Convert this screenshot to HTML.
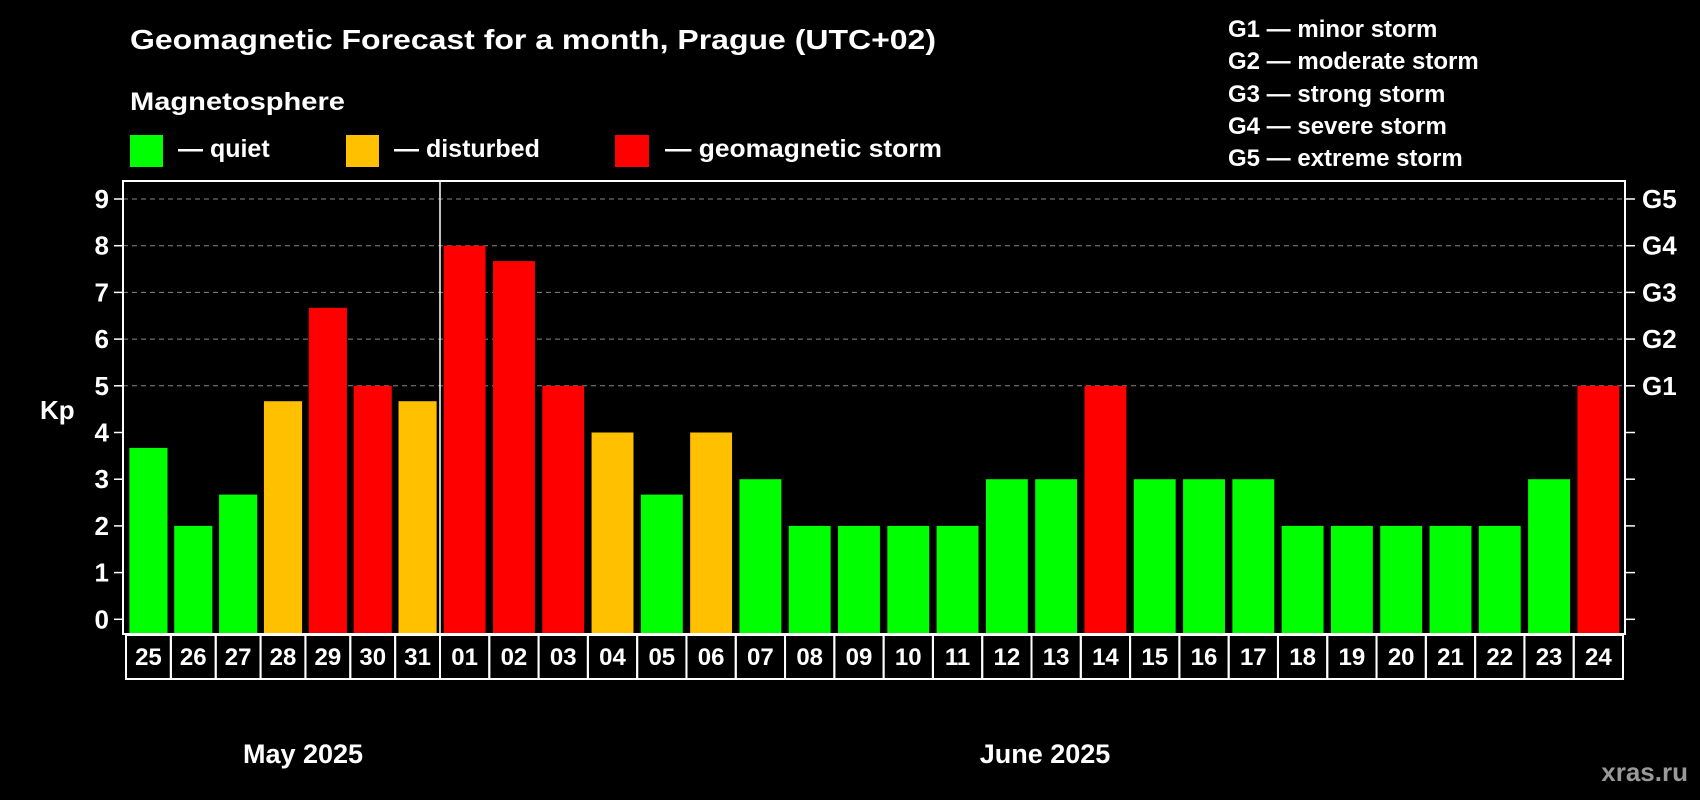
<!DOCTYPE html>
<html><head><meta charset="utf-8"><style>
html,body{margin:0;padding:0;background:#000;}
svg{display:block;font-family:"Liberation Sans",Arial,sans-serif;font-weight:bold;}
</style></head><body>
<svg id="chart" width="1700" height="800" viewBox="0 0 1700 800" xmlns="http://www.w3.org/2000/svg">
<rect width="1700" height="800" fill="#000"/>
<text x="130" y="49" font-size="28" fill="#fff" textLength="806" lengthAdjust="spacingAndGlyphs">Geomagnetic Forecast for a month, Prague (UTC+02)</text>
<text x="130" y="110" font-size="25" fill="#fff" textLength="215" lengthAdjust="spacingAndGlyphs">Magnetosphere</text>
<g>
<rect x="130" y="135" width="33" height="32" fill="#00ff00"/>
<text x="178" y="157" font-size="25" fill="#fff">— quiet</text></g>
<g>
<rect x="346" y="135" width="33" height="32" fill="#ffc000"/>
<text x="394" y="157" font-size="25" fill="#fff">— disturbed</text></g>
<g>
<rect x="615" y="135" width="34" height="32" fill="#ff0000"/>
<text x="665" y="157" font-size="25" fill="#fff" textLength="277" lengthAdjust="spacingAndGlyphs">— geomagnetic storm</text></g>
<g font-size="24" fill="#fff">
<text x="1228" y="37">G1 — minor storm</text>
<text x="1228" y="69">G2 — moderate storm</text>
<text x="1228" y="102">G3 — strong storm</text>
<text x="1228" y="134">G4 — severe storm</text>
<text x="1228" y="166">G5 — extreme storm</text>
</g>
<text x="40" y="419" font-size="26" fill="#fff">Kp</text>
<g id="grid"></g><g id="bars"></g><g id="axes"></g><g id="cells"></g>
<text x="303" y="763" font-size="27" fill="#fff" text-anchor="middle">May 2025</text>
<text x="1045" y="763" font-size="27" fill="#fff" text-anchor="middle">June 2025</text>
<text x="1688" y="781" font-size="26" fill="#999" text-anchor="end">xras.ru</text>
</svg>
<script>
const days = ["25","26","27","28","29","30","31","01","02","03","04","05","06","07","08","09","10","11","12","13","14","15","16","17","18","19","20","21","22","23","24"];
const kpValues = [3.67,2,2.67,4.67,6.67,5,4.67,8,7.67,5,4,2.67,4,3,2,2,2,2,3,3,5,3,3,3,2,2,2,2,2,3,5];
const yTicks = [0,1,2,3,4,5,6,7,8,9];
const gLabels = ["G1","G2","G3","G4","G5"];
const gLevels = [5,6,7,8,9];
const mayCount = 7;

const NS = "http://www.w3.org/2000/svg";
const plotL = 123, plotR = 1625, plotT = 181, plotB = 634;
const y0 = 619.3, yUnit = (619.3 - 199) / 9;
const mayL = 126, divX = 440, juneR = 1623;
function yScale(v){ return y0 - v * yUnit; }
function cellX(i){
  if (i < mayCount) return mayL + i * (divX - mayL) / mayCount;
  return divX + (i - mayCount) * (juneR - divX) / (days.length - mayCount);
}
function cellW(i){ return i < mayCount ? (divX - mayL) / mayCount : (juneR - divX) / (days.length - mayCount); }
function colorFor(v){ return v >= 5 ? "#ff0000" : (v >= 4 ? "#ffc000" : "#00ff00"); }
function mk(tag, attrs, parent){
  const e = document.createElementNS(NS, tag);
  for (const k in attrs) e.setAttribute(k, attrs[k]);
  parent.appendChild(e); return e;
}
const grid = document.getElementById("grid"), bars = document.getElementById("bars"),
      axes = document.getElementById("axes"), cells = document.getElementById("cells");

gLevels.forEach((v, i) => {
  const y = yScale(v);
  const l = mk("line", {x1: plotL, x2: plotR, y1: y, y2: y, stroke: "#888", "stroke-width": 1, "stroke-dasharray": "5,4"}, grid);
  
  
  const t = mk("text", {x: 1642, y: y + 9, "font-size": 26, fill: "#fff"}, axes);
  t.textContent = gLabels[i];
  
  
});

kpValues.forEach((v, i) => {
  const w = cellW(i), inset = w * 0.075;
  const y = yScale(v);
  const r = mk("rect", {x: cellX(i) + inset, y: y, width: w - 2 * inset, height: plotB - y, fill: colorFor(v)}, bars);
  
  
});

const frame = mk("rect", {x: plotL, y: plotT, width: plotR - plotL, height: plotB - plotT, fill: "none", stroke: "#fff", "stroke-width": 2}, axes);


const div = mk("line", {x1: divX, x2: divX, y1: plotT, y2: plotB, stroke: "#fff", "stroke-width": 1.5}, axes);



yTicks.forEach(v => {
  const y = yScale(v);
  const a = mk("line", {x1: 114, x2: plotL, y1: y, y2: y, stroke: "#fff", "stroke-width": 1.5}, axes);
  
  
  const b = mk("line", {x1: plotR, x2: 1635, y1: y, y2: y, stroke: "#fff", "stroke-width": 1.5}, axes);
  
  
  const t = mk("text", {x: 109, y: y + 9, "font-size": 26, fill: "#fff", "text-anchor": "end"}, axes);
  t.textContent = v;
  
  
});

days.forEach((d, i) => {
  const x = cellX(i), w = cellW(i);
  const r = mk("rect", {x: x, y: 635, width: w, height: 44, fill: "none", stroke: "#fff", "stroke-width": 2}, cells);
  
  
  const t = mk("text", {x: x + w / 2, y: 665, "font-size": 24, fill: "#fff", "text-anchor": "middle"}, cells);
  t.textContent = d;
  
  
});
</script>
</body></html>
